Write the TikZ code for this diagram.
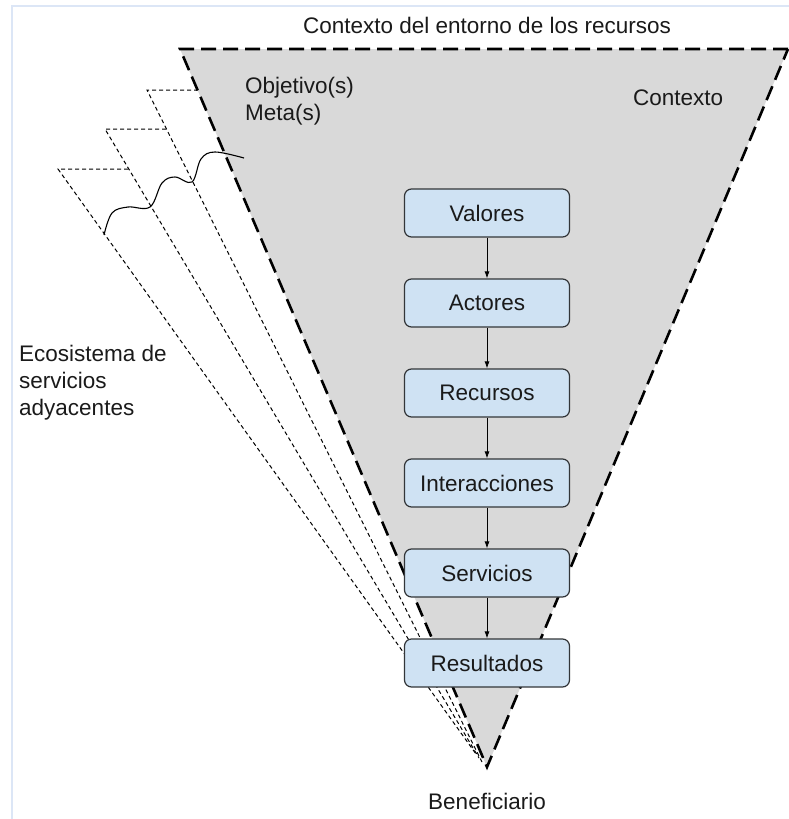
\documentclass[tikz,border=0pt]{standalone}
\usepackage{fontspec}
\setmainfont{Liberation Sans}
\usetikzlibrary{arrows.meta,positioning}

\definecolor{boxblue}{HTML}{CFE2F3}
\definecolor{boxline}{HTML}{333639}
\definecolor{conegray}{HTML}{D9D9D9}
\definecolor{framebl}{HTML}{DCE6F6}
\definecolor{textgray}{HTML}{1A1A1A}

\begin{document}
\begin{tikzpicture}[x=1pt, y=-1pt, node distance=90pt,
	stage/.style={draw=boxline, fill=boxblue, rounded corners=7pt, line width=1.2pt,
		minimum width=165pt, minimum height=48pt, text=textgray,
		font=\fontsize{22.5}{27}\selectfont},
	caption/.style={text=textgray, inner sep=0pt, font=\fontsize{22.5}{27}\selectfont},
	flow/.style={-{Latex[length=7pt,width=5pt]}, line width=0.8pt},
	cone/.style={fill=conegray, line width=2.6pt, dash pattern=on 15pt off 7pt},
	adjacent/.style={line width=1pt, dash pattern=on 4pt off 3pt}]
	\useasboundingbox (0,0) rectangle (789,819);

	% frame
	\draw[framebl, line width=2pt] (12,819) -- (12,6) -- (789,6);

	% adjacent services
	\draw[adjacent] (128,169) -- (58,169)  -- (476,754);
	\draw[adjacent] (166,129) -- (105,129) -- (479,758);
	\draw[adjacent] (198,90)  -- (147,90)  -- (482,762);

	% context cone
	\coordinate (tl) at (180,49);
	\coordinate (tr) at (788,49);
	\coordinate (apex) at (487,767);
	\draw[cone] (tr) -- (tl) -- (apex) -- cycle;

	% goal wave
	\draw[line width=1.1pt] plot[smooth, tension=0.6] coordinates
		{(104,235) (112,213) (128,207) (150,207) (162,183) (175,177) (192,182)
		 (201,159) (215,152) (244,158)};

	% chain
	\node[stage] (valores) at (487,213)  {Valores};
	\node[stage] (actores)      [below of=valores]  {Actores};
	\node[stage] (recursos)     [below of=actores]  {Recursos};
	\node[stage] (interacciones)[below of=recursos] {Interacciones};
	\node[stage] (servicios)    [below of=interacciones] {Servicios};
	\node[stage] (resultados)   [below of=servicios] {Resultados};

	\draw [flow] (valores)       -- (actores);
	\draw [flow] (actores)       -- (recursos);
	\draw [flow] (recursos)      -- (interacciones);
	\draw [flow] (interacciones) -- (servicios);
	\draw [flow] (servicios)     -- (resultados);

	% labels
	\node[caption, anchor=base] (entorno) at (487,33) {Contexto del entorno de los recursos};
	\node[caption, anchor=base west] (contexto) at (633,105) {Contexto};
	\node[caption, anchor=north west, align=left] (objetivos) at (245,77) {Objetivo(s)\\Meta(s)};
	\node[caption, anchor=north west, align=left] (ecosistema) at (19,345) {Ecosistema de\\servicios\\adyacentes};
	\node[caption, anchor=base] (beneficiario) at (487,809) {Beneficiario};
\end{tikzpicture}
\end{document}
